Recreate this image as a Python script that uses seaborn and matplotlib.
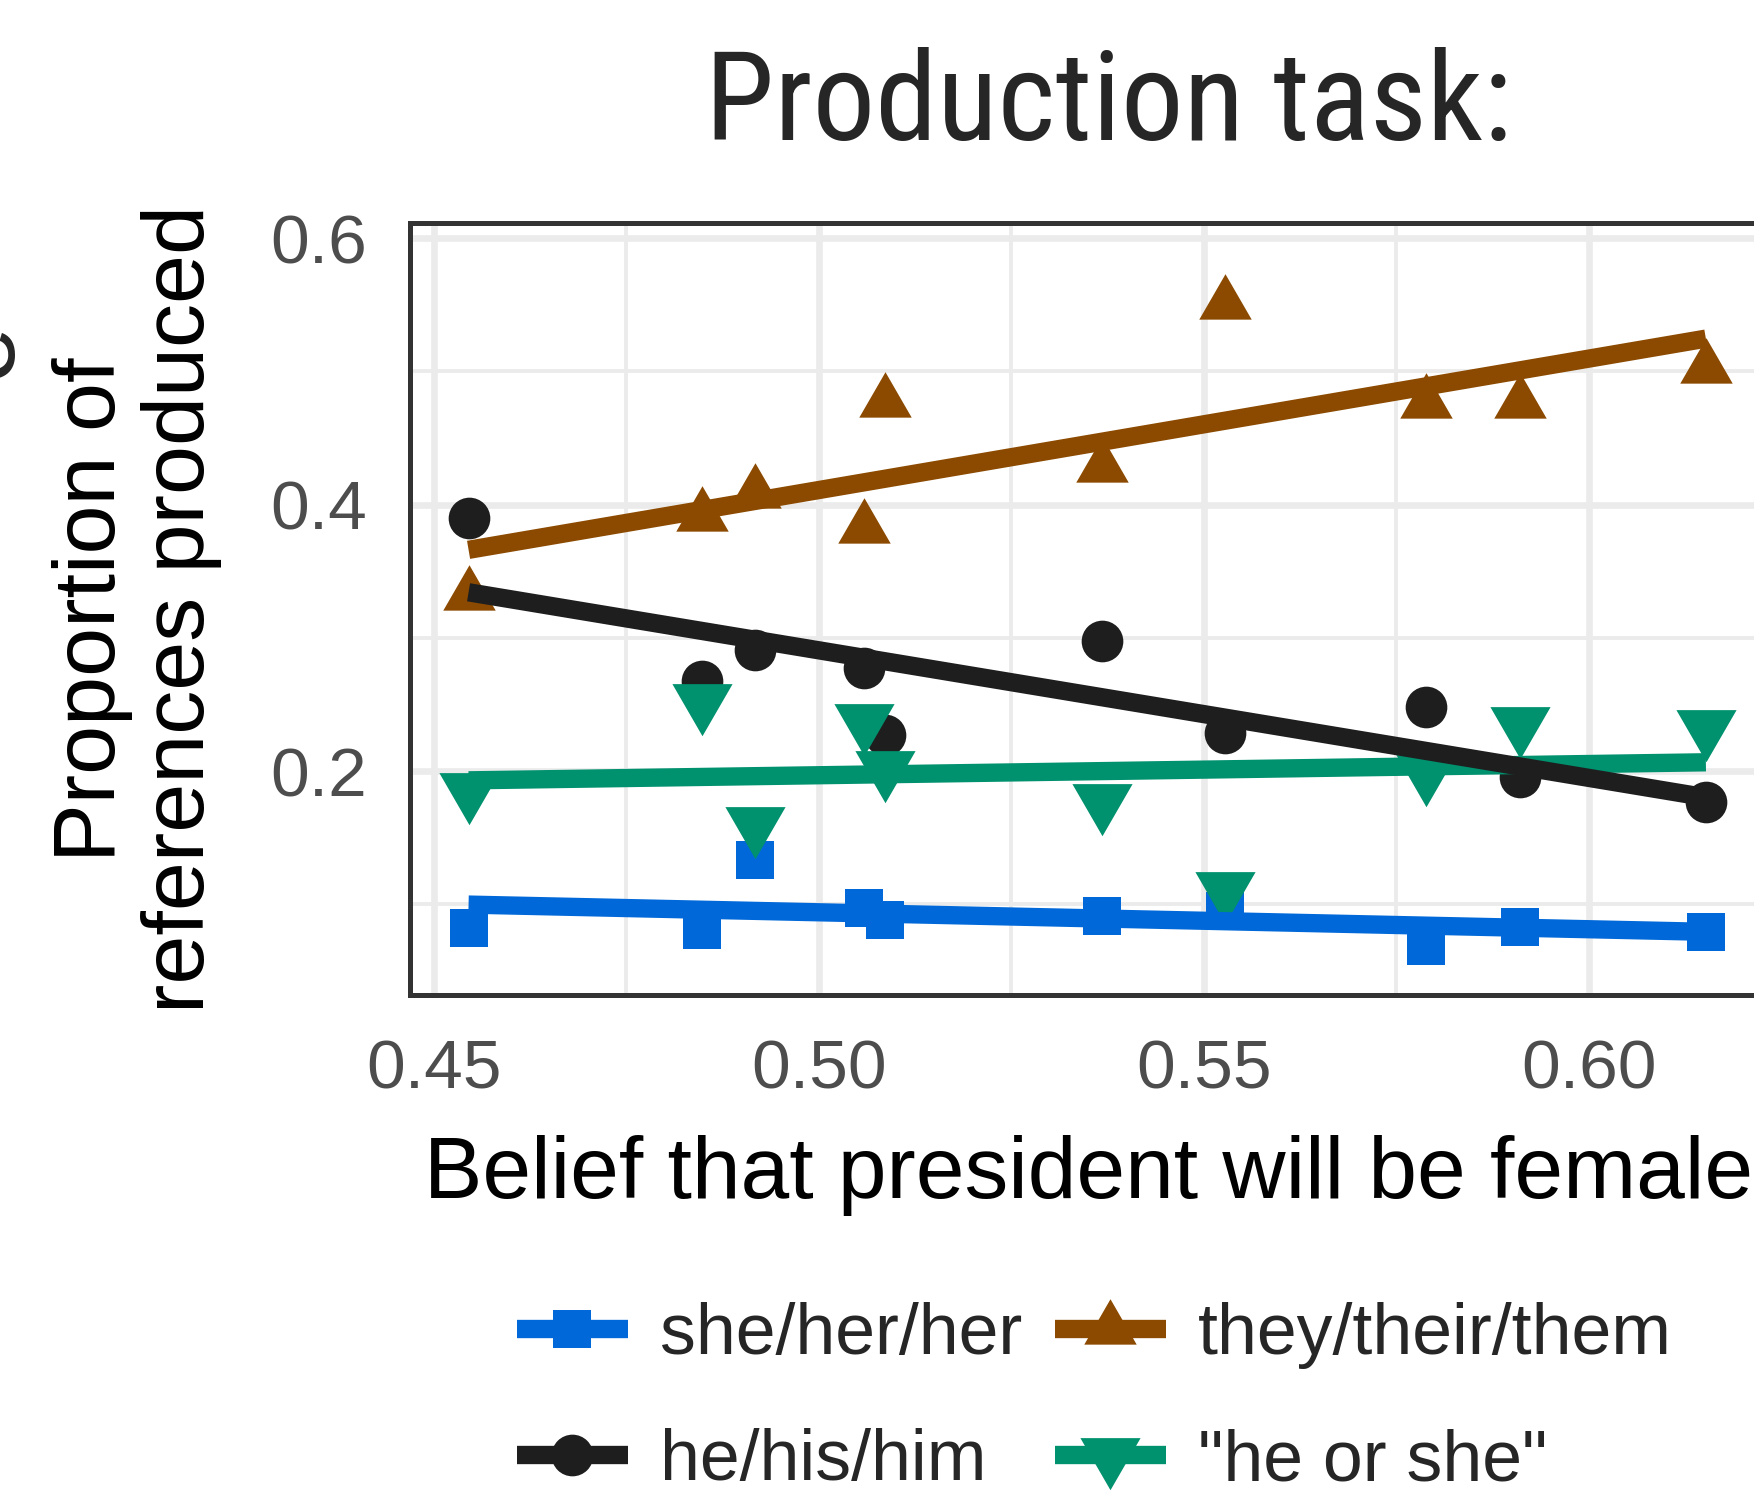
import numpy as np
import pandas as pd
import seaborn as sns
import matplotlib.pyplot as plt
from matplotlib.path import Path
from matplotlib.lines import Line2D
from matplotlib.ticker import MultipleLocator

# belief that the president will be female (one value per item)
belief = [0.4545, 0.4848, 0.4917, 0.5058, 0.5086, 0.5368, 0.5527, 0.5788, 0.5910, 0.6152]

# proportion of references produced, per pronoun type
she = [0.0824, 0.0812, 0.1334, 0.0974, 0.0884, 0.0914, 0.0950, 0.0689, 0.0831, 0.0794]
he = [0.3900, 0.2677, 0.2910, 0.2774, 0.2272, 0.2977, 0.2287, 0.2482, 0.1957, 0.1769]
they = [0.3320, 0.3915, 0.4087, 0.3825, 0.4770, 0.4280, 0.5505, 0.4760, 0.4760, 0.5025]
he_or_she = [0.1860, 0.2527, 0.1604, 0.2377, 0.2024, 0.1777, 0.1116, 0.1994, 0.2354, 0.2332]

labels = ['she/her/her', 'he/his/him', 'they/their/them', '"he or she"']
colors = ['#0068D8', '#1E1E1E', '#8B4A00', '#00916E']

x_ticks = [0.45, 0.50, 0.55, 0.60]
x_tick_labels = ['0.45', '0.50', '0.55', '0.60']
y_ticks = [0.2, 0.4, 0.6]
y_tick_labels = ['0.2', '0.4', '0.6']

sns.set_style('white')
plt.rcParams['font.family'] = ['Liberation Sans', 'DejaVu Sans']

# R style triangles, centroid on the data point
tri_up = Path([(0, 1.555), (1.347, -0.778), (-1.347, -0.778), (0, 1.555)], closed=True)
tri_down = Path([(0, -1.555), (1.347, 0.778), (-1.347, 0.778), (0, -1.555)], closed=True)

markers = ['s', 'o', tri_up, tri_down]
msizes = [14, 15, 21.8, 25]
lw = 6.6

df = pd.DataFrame({'belief': belief * 4,
                   'prop': she + he + they + he_or_she,
                   'pronoun': np.repeat(labels, len(belief))})

fig = plt.figure(figsize=(8.77, 7.52), dpi=200)
ax = fig.add_axes([0.234, 0.3381, 0.7728, 0.5133])

for lab, col, m, ms in zip(labels, colors, markers, msizes):
    sub = df[df['pronoun'] == lab]
    sns.scatterplot(data=sub, x='belief', y='prop', color=col, marker=m,
                    s=ms ** 2, linewidth=0, ax=ax, legend=False)

# regression lines, black one on top
for i in [0, 2, 3, 1]:
    sub = df[df['pronoun'] == labels[i]]
    sns.regplot(data=sub, x='belief', y='prop', scatter=False, ci=None, truncate=True,
                color=colors[i], ax=ax,
                line_kws={'linewidth': lw, 'solid_capstyle': 'butt'})

ax.set_xlim(0.44695, 0.623)
ax.set_ylim(0.0317, 0.6109)
ax.set_xticks(x_ticks)
ax.set_xticklabels(x_tick_labels)
ax.set_yticks(y_ticks)
ax.set_yticklabels(y_tick_labels)
ax.xaxis.set_minor_locator(MultipleLocator(0.025))
ax.yaxis.set_minor_locator(MultipleLocator(0.1))

ax.set_axisbelow(True)
ax.grid(which='major', color='#EBEBEB', linewidth=2.4)
ax.grid(which='minor', color='#EBEBEB', linewidth=1.4)
for sp in ax.spines.values():
    sp.set_color('#333333')
    sp.set_linewidth(1.8)

ax.tick_params(which='major', length=8.5, width=2.5, color='#333333',
               labelsize=25, labelcolor='#4D4D4D', pad=7)
ax.tick_params(which='minor', length=0)

ax.set_xlabel('Belief that president will be female', fontsize=31.5, color='black')
ax.xaxis.set_label_coords(0.5, -0.181)
ax.set_ylabel('Proportion of\nreferences produced', fontsize=31.7, color='black', linespacing=1.13)
ax.yaxis.set_label_coords(-0.139, 0.5)

fig.text(0.632, 1 - 140 / 1504, 'Production task:', ha='center', va='baseline', fontsize=45,
         family=['Liberation Sans Narrow', 'Roboto Condensed', 'Liberation Sans'])

# piece of a neighbouring label cut off at the left edge
fig.text(11 / 1754, 1 - 350 / 1504, 'e', rotation=90, rotation_mode='anchor',
         ha='center', va='baseline', fontsize=37)

handles = [Line2D([], [], color=c, linewidth=lw, marker=m, markersize=ms,
                  markeredgewidth=0, solid_capstyle='butt')
           for c, m, ms in zip(colors, markers, msizes)]
fig.legend(handles, labels, ncol=2, loc='center', bbox_to_anchor=(0.624, 0.0701),
           frameon=False, fontsize=25.8, handlelength=1.55, handletextpad=0.45,
           columnspacing=0.45, labelspacing=0.835, borderpad=0)

fig.savefig('out.png', dpi=200)
